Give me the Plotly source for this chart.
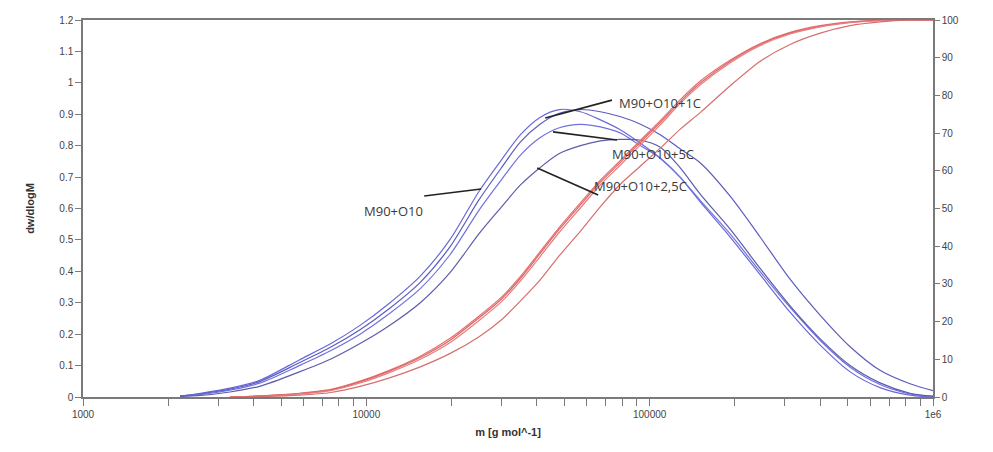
import math
import plotly.graph_objects as go

# molar mass grid [g/mol]
mass = [2200, 2600, 3300, 4200, 5800, 7500, 9500, 12000, 15500, 19700,
        25000, 30000, 35000, 41000, 48000, 57000, 67000, 79000, 92000, 109000,
        128000, 151000, 192000, 245000, 313000, 400000, 510000, 650000, 830000, 1000000]

# differential distributions dw/dlogM (left axis)
w_m90_o10 = [0.003, 0.012, 0.028, 0.053, 0.118, 0.170, 0.228, 0.297, 0.385, 0.500,
             0.655, 0.755, 0.835, 0.890, 0.915, 0.908, 0.882, 0.850, 0.810, 0.760,
             0.700, 0.620, 0.510, 0.390, 0.270, 0.165, 0.080, 0.030, 0.006, 0.000]
w_m90_o10_1c = [0.003, 0.010, 0.025, 0.049, 0.109, 0.159, 0.214, 0.280, 0.365, 0.477,
                0.628, 0.730, 0.812, 0.868, 0.903, 0.915, 0.908, 0.892, 0.870, 0.835,
                0.790, 0.745, 0.640, 0.510, 0.375, 0.260, 0.160, 0.085, 0.042, 0.020]
w_m90_o10_5c = [0.003, 0.008, 0.022, 0.044, 0.100, 0.148, 0.200, 0.264, 0.345, 0.452,
                0.595, 0.692, 0.770, 0.825, 0.857, 0.868, 0.860, 0.840, 0.802, 0.760,
                0.700, 0.625, 0.520, 0.400, 0.285, 0.180, 0.095, 0.040, 0.010, 0.002]
w_m90_o10_25c = [0.002, 0.005, 0.016, 0.034, 0.080, 0.121, 0.170, 0.226, 0.300, 0.395,
                 0.520, 0.605, 0.675, 0.730, 0.775, 0.800, 0.815, 0.820, 0.818, 0.795,
                 0.730, 0.645, 0.535, 0.410, 0.290, 0.185, 0.100, 0.045, 0.012, 0.003]

# cumulative distributions [%] (right axis)
c_m90_o10 = [None, None, 0.0, 0.3, 1.0, 2.0, 4.2, 7.0, 10.8, 15.5,
             21.5, 26.5, 32.0, 38.5, 45.0, 51.5, 57.5, 62.8, 67.8, 73.3,
             78.8, 83.8, 89.3, 93.7, 96.7, 98.5, 99.5, 99.9, 100.0, 100.0]
c_m90_o10_1c = [None, None, 0.0, 0.3, 0.9, 1.9, 4.0, 6.8, 10.5, 15.0,
                21.0, 26.0, 31.5, 38.0, 44.5, 51.0, 57.0, 62.3, 67.3, 72.8,
                78.3, 83.3, 89.0, 93.5, 96.5, 98.3, 99.4, 99.9, 100.0, 100.0]
c_m90_o10_5c = [None, None, 0.0, 0.2, 0.8, 1.7, 3.7, 6.4, 10.0, 14.4,
                20.3, 25.3, 30.8, 37.2, 43.7, 50.2, 56.3, 61.6, 66.6, 72.2,
                77.8, 82.8, 88.6, 93.2, 96.3, 98.2, 99.3, 99.8, 100.0, 100.0]
c_m90_o10_25c = [None, None, 0.0, 0.1, 0.5, 1.2, 2.8, 5.0, 8.0, 11.5,
                 16.0, 20.5, 25.5, 31.0, 37.5, 44.0, 50.5, 56.5, 61.0, 66.0,
                 71.0, 75.5, 82.5, 89.0, 93.5, 96.5, 98.5, 99.5, 100.0, 100.0]

x_ticks = [1000, 10000, 100000, 1000000]
x_ticktext = ["1000", "10000", "100000", "1e6"]
x_minor = [k * d for d in (1000, 10000, 100000) for k in range(2, 10)]
y_ticks = [0, 0.1, 0.2, 0.3, 0.4, 0.5, 0.6, 0.7, 0.8, 0.9, 1.0, 1.1, 1.2]
y_ticktext = ["0", "0.1", "0.2", "0.3", "0.4", "0.5", "0.6", "0.7", "0.8", "0.9", "1", "1.1", "1.2"]
y2_ticks = list(range(0, 101, 10))

# labels: text, point on curve (M, w), line end (M, w), text anchor (M, w)
labels = [
    ("M90+O10", (25400, 0.662), (16000, 0.640), (12500, 0.592), "center"),
    ("M90+O10+1C", (42800, 0.888), (73600, 0.945), (76500, 0.936), "left"),
    ("M90+O10+5C", (45600, 0.844), (76700, 0.818), (72400, 0.774), "left"),
    ("M90+O10+2,5C", (40100, 0.729), (65800, 0.643), (62700, 0.672), "left"),
]

BLUE = ["rgb(104,104,218)", "rgb(92,92,190)", "rgb(112,112,224)", "rgb(92,92,170)"]
RED = ["rgb(228,112,112)", "rgb(222,100,100)", "rgb(232,125,125)", "rgb(215,110,110)"]

fig = go.Figure()
for i, ys in enumerate([w_m90_o10, w_m90_o10_1c, w_m90_o10_5c, w_m90_o10_25c]):
    fig.add_trace(go.Scatter(x=mass, y=ys, mode="lines",
                             line=dict(color=BLUE[i], width=1.2, shape="spline", smoothing=0.8),
                             showlegend=False, yaxis="y"))
for i, ys in enumerate([c_m90_o10, c_m90_o10_1c, c_m90_o10_5c, c_m90_o10_25c]):
    fig.add_trace(go.Scatter(x=mass, y=ys, mode="lines",
                             line=dict(color=RED[i], width=1.2, shape="spline", smoothing=0.7),
                             showlegend=False, yaxis="y2"))

for text, p0, p1, pt, anchor in labels:
    fig.add_shape(type="line", xref="x", yref="y", x0=p0[0], y0=p0[1], x1=p1[0], y1=p1[1],
                  line=dict(color="#222222", width=1.6))
    fig.add_annotation(x=math.log10(pt[0]), y=pt[1], xref="x", yref="y", text=text, showarrow=False,
                       xanchor=anchor, yanchor="middle",
                       font=dict(family="Open Sans, DejaVu Sans", size=13, color="#3a3a3a"))

axis_color = "#7a7a7a"
# the page adds an 8px body margin, so the figure is sized to fit the 993x452 window
fig.update_layout(
    width=985, height=444,
    margin=dict(l=75, r=60, t=12, b=55, autoexpand=False),
    paper_bgcolor="white", plot_bgcolor="white",
    font=dict(family="Liberation Sans, Arial", size=10, color="#444444"),
    xaxis=dict(type="log", range=[3, 6], tickvals=x_ticks, ticktext=x_ticktext, automargin=False,
               showgrid=False, zeroline=False, showline=True, linecolor=axis_color, linewidth=1.5,
               mirror=True, ticks="outside", ticklen=7, tickcolor=axis_color, tickwidth=1.2,
               minor=dict(tickmode="array", tickvals=x_minor, ticks="outside", ticklen=7,
                          tickcolor=axis_color, tickwidth=1.2, showgrid=False),
               title=dict(text="<b>m [g mol^-1]</b>", font=dict(size=11, color="#333333"), standoff=10)),
    yaxis=dict(range=[0, 1.2], tickvals=y_ticks, ticktext=y_ticktext, showgrid=False, zeroline=False,
               automargin=False,
               showline=True, linecolor=axis_color, linewidth=1.5, ticks="outside", ticklen=6,
               tickcolor=axis_color, tickwidth=1.2,
               title=dict(text="<b>dw/dlogM</b>", font=dict(size=11, color="#333333"), standoff=22)),
    yaxis2=dict(range=[0, 100], tickvals=y2_ticks, overlaying="y", side="right", showgrid=False,
                automargin=False,
                zeroline=False, showline=True, linecolor=axis_color, linewidth=1.5, ticks="outside",
                ticklen=5, tickcolor=axis_color, tickwidth=1.2),
)

fig.write_html("out.html")
